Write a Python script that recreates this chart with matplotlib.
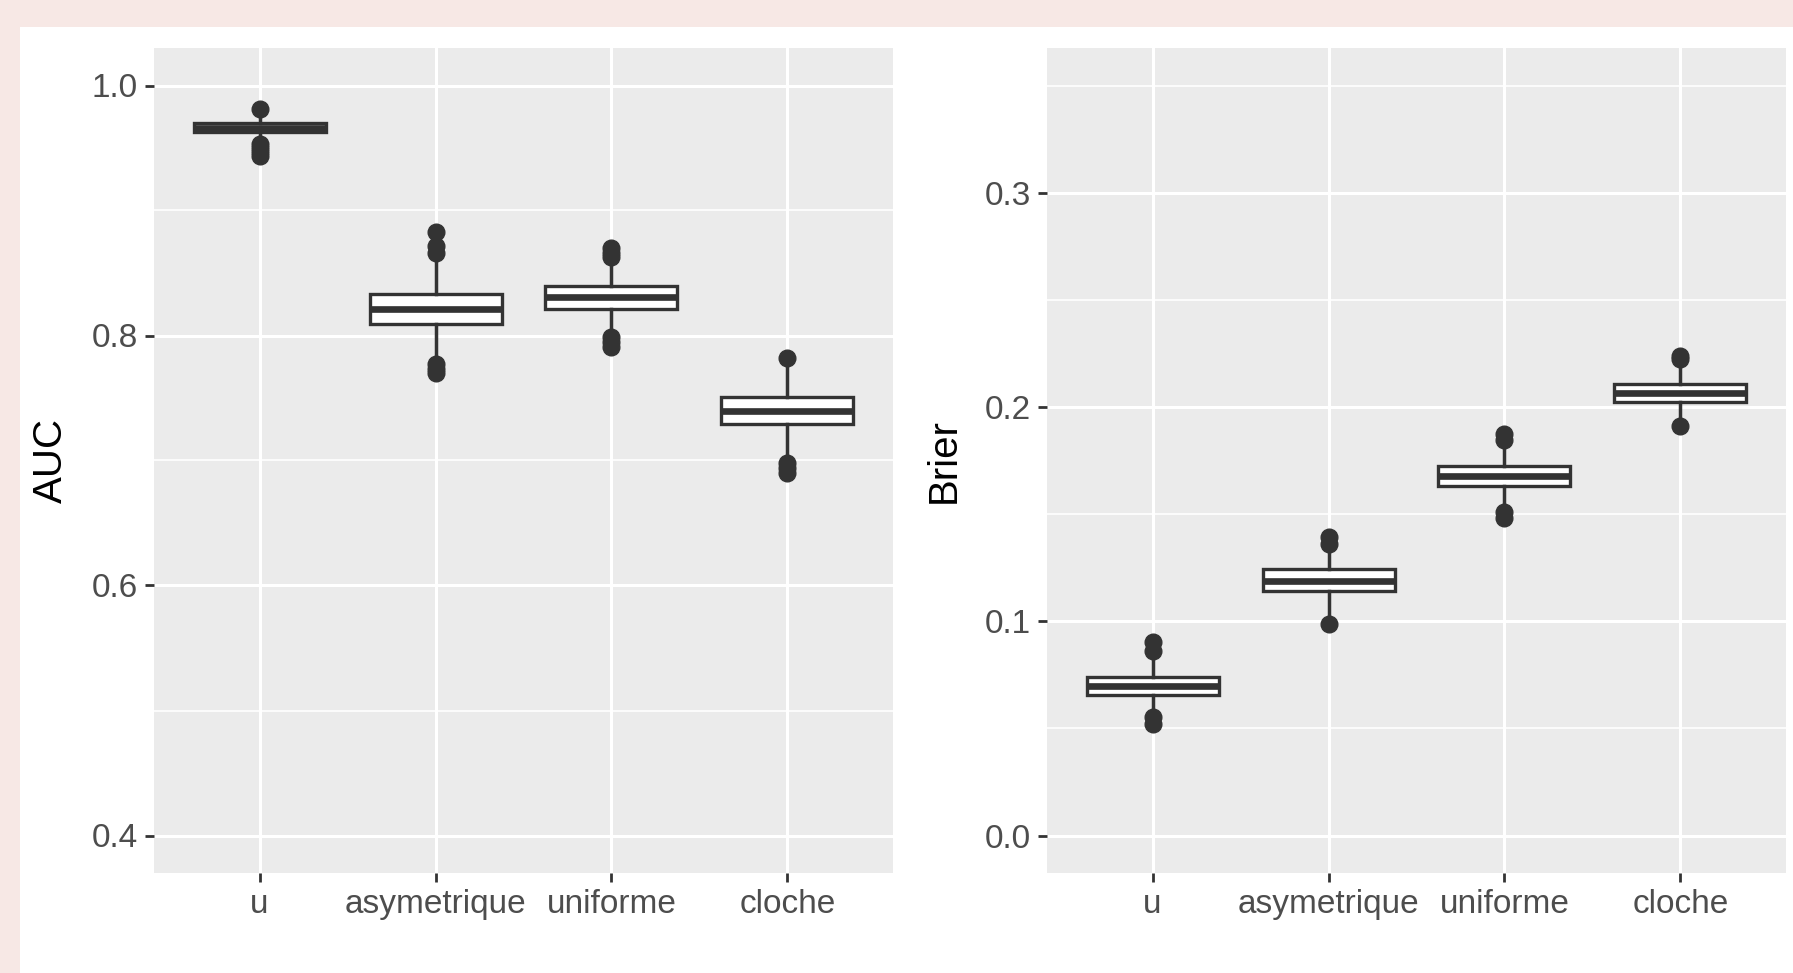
import matplotlib
matplotlib.use("Agg")
import matplotlib.pyplot as plt
from matplotlib.patches import Rectangle
from matplotlib.ticker import MultipleLocator

plt.rcParams['font.family'] = ['Liberation Sans', 'DejaVu Sans']

categories = ["u", "asymetrique", "uniforme", "cloche"]

# AUC boxes
auc_q1 = [0.9625, 0.809, 0.821, 0.729]
auc_med = [0.966, 0.821, 0.831, 0.740]
auc_q3 = [0.9700, 0.833, 0.840, 0.751]
auc_lo = [0.957, 0.782, 0.803, 0.705]
auc_hi = [0.975, 0.862, 0.860, 0.776]
auc_fliers = [[0.981, 0.953, 0.950, 0.947, 0.944],
              [0.883, 0.872, 0.866, 0.777, 0.773, 0.770],
              [0.870, 0.866, 0.863, 0.799, 0.795, 0.791],
              [0.782, 0.698, 0.694, 0.690]]

# Brier boxes
brier_q1 = [0.0654, 0.1140, 0.1631, 0.2021]
brier_med = [0.0700, 0.1190, 0.1678, 0.2065]
brier_q3 = [0.0742, 0.1242, 0.1724, 0.2109]
brier_lo = [0.0590, 0.1030, 0.1550, 0.1950]
brier_hi = [0.0830, 0.1330, 0.1810, 0.2190]
brier_fliers = [[0.0902, 0.0863, 0.0555, 0.0522],
                [0.1393, 0.1362, 0.0988],
                [0.1876, 0.1844, 0.1509, 0.1483],
                [0.2237, 0.2222, 0.1911]]

DARK = "#333333"
PINK = "#F7E8E5"


def make_stats(q1, med, q3, lo, hi, fliers):
    out = []
    for i in range(len(q1)):
        out.append(dict(q1=q1[i], med=med[i], q3=q3[i], whislo=lo[i],
                        whishi=hi[i], fliers=fliers[i], label=categories[i]))
    return out


def draw_panel(ax, stats, ylabel, ylim, major, minor):
    ax.set_facecolor("#EBEBEB")
    ax.bxp(stats, positions=range(1, len(stats) + 1), widths=0.75,
           patch_artist=True, showcaps=False,
           boxprops=dict(facecolor="white", edgecolor=DARK, linewidth=2.4),
           medianprops=dict(color=DARK, linewidth=4.8, solid_capstyle="butt"),
           whiskerprops=dict(color=DARK, linewidth=2.5),
           flierprops=dict(marker="o", markerfacecolor=DARK, markeredgecolor=DARK,
                           markersize=12))
    ax.set_axisbelow(True)
    ax.set_xlim(0.4, 4.6)
    lo, hi = ylim
    pad = (hi - lo) * 0.05
    ax.set_ylim(lo - pad, hi + pad)
    ax.yaxis.set_major_locator(MultipleLocator(major))
    ax.yaxis.set_minor_locator(MultipleLocator(minor))
    ax.grid(which="major", color="white", linewidth=2.2)
    ax.grid(which="minor", axis="y", color="white", linewidth=1.2)
    ax.set_xticks(range(1, len(categories) + 1))
    ax.set_xticklabels(categories)
    for s in ax.spines.values():
        s.set_visible(False)
    ax.tick_params(which="major", length=6.5, width=2, color=DARK,
                   labelsize=24, labelcolor="#4D4D4D", pad=5)
    ax.tick_params(which="minor", length=0)
    ax.set_ylabel(ylabel, fontsize=29, color="black")
    ax.yaxis.set_label_coords(-0.114, 0.5)


fig = plt.figure(figsize=(17.93, 9.73), dpi=100)
fig.patch.set_facecolor("white")
# pink page border on the top and left
fig.patches.append(Rectangle((0, 1 - 27 / 973), 1, 27 / 973,
                             transform=fig.transFigure, facecolor=PINK,
                             edgecolor="none"))
fig.patches.append(Rectangle((0, 0), 20 / 1793, 1,
                             transform=fig.transFigure, facecolor=PINK,
                             edgecolor="none"))

ax1 = fig.add_axes([154 / 1793, 1 - 873 / 973, 739 / 1793, 825 / 973])
ax2 = fig.add_axes([1047 / 1793, 1 - 873 / 973, 739 / 1793, 825 / 973])

draw_panel(ax1, make_stats(auc_q1, auc_med, auc_q3, auc_lo, auc_hi, auc_fliers),
           "AUC", (0.4, 1.0), 0.2, 0.1)
draw_panel(ax2, make_stats(brier_q1, brier_med, brier_q3, brier_lo, brier_hi, brier_fliers),
           "Brier", (0.0, 0.35), 0.1, 0.05)

fig.savefig("out.png", dpi=100, facecolor="white")
